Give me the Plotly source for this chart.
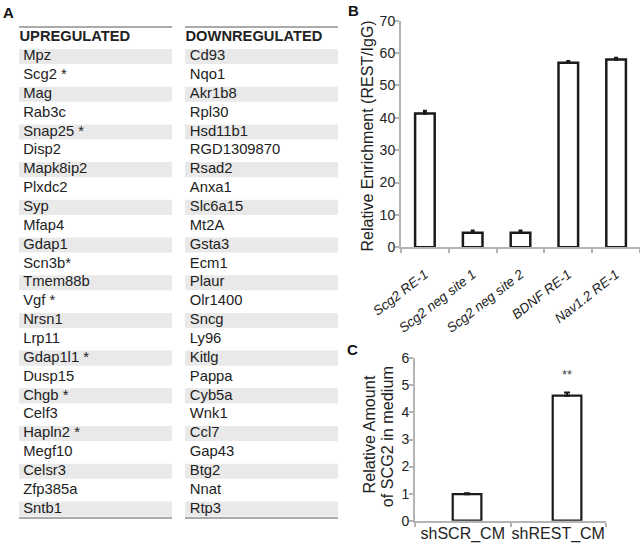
import plotly.graph_objects as go

# ---------------- data ----------------
up_genes = ["Mpz", "Scg2 *", "Mag", "Rab3c", "Snap25 *", "Disp2", "Mapk8ip2", "Plxdc2",
            "Syp", "Mfap4", "Gdap1", "Scn3b*", "Tmem88b", "Vgf *", "Nrsn1", "Lrp11",
            "Gdap1l1 *", "Dusp15", "Chgb *", "Celf3", "Hapln2 *", "Megf10", "Celsr3",
            "Zfp385a", "Sntb1"]
down_genes = ["Cd93", "Nqo1", "Akr1b8", "Rpl30", "Hsd11b1", "RGD1309870", "Rsad2", "Anxa1",
              "Slc6a15", "Mt2A", "Gsta3", "Ecm1", "Plaur", "Olr1400", "Sncg", "Ly96",
              "Kitlg", "Pappa", "Cyb5a", "Wnk1", "Ccl7", "Gap43", "Btg2", "Nnat", "Rtp3"]
headers = ["UPREGULATED", "DOWNREGULATED"]

chip_sites = ["Scg2 RE-1", "Scg2 neg site 1", "Scg2 neg site 2", "BDNF RE-1", "Nav1.2 RE-1"]
chip_values = [41.3, 4.5, 4.5, 57.0, 58.0]
chip_errors = [0.8, 0.6, 0.6, 0.5, 0.5]

cm_groups = ["shSCR_CM", "shREST_CM"]
cm_values = [0.98, 4.62]
cm_errors = [0.03, 0.12]
cm_marks = ["", "**"]

FONT = "Liberation Sans, Arial, sans-serif"
TXT = "#222222"
AX = "#b4b4b4"

fig = go.Figure()

# ---------------- panel A (table) ----------------
n = len(up_genes)
band_rows = [i for i in range(n) if i % 2 == 0]
col_left = [19, 185]     # band start (x3 units = px)
col_w = 153
fig.add_trace(go.Bar(
    orientation="h",
    y=band_rows + band_rows,
    x=[col_w] * (2 * len(band_rows)),
    base=[col_left[0]] * len(band_rows) + [col_left[1]] * len(band_rows),
    width=0.8,
    marker=dict(color="#e9e9e9", line=dict(width=0)),
    xaxis="x3", yaxis="y3", hoverinfo="skip", showlegend=False,
))
rows = list(range(n))
fig.add_trace(go.Scatter(
    x=[23.2] * n, y=rows, text=up_genes, mode="text", textposition="middle right",
    textfont=dict(family=FONT, size=14.8, color=TXT),
    xaxis="x3", yaxis="y3", hoverinfo="skip", showlegend=False,
))
fig.add_trace(go.Scatter(
    x=[189.8] * n, y=rows, text=down_genes, mode="text", textposition="middle right",
    textfont=dict(family=FONT, size=14.8, color=TXT),
    xaxis="x3", yaxis="y3", hoverinfo="skip", showlegend=False,
))
fig.add_trace(go.Scatter(
    x=[19.5, 185.5], y=[-1, -1], text=[f"<b>{h}</b>" for h in headers], mode="text",
    textposition="middle right",
    textfont=dict(family=FONT, size=14.7, color=TXT),
    xaxis="x3", yaxis="y3", hoverinfo="skip", showlegend=False,
))
for x0 in col_left:
    for yy in (-1.565, n - 0.52):
        fig.add_shape(type="line", xref="x3", yref="y3", x0=x0, x1=x0 + col_w, y0=yy, y1=yy,
                      line=dict(color="#8f8f8f", width=1.5))

# ---------------- panel B ----------------
fig.add_trace(go.Bar(
    x=chip_sites, y=chip_values, width=0.41,
    marker=dict(color="white", line=dict(color="#1a1a1a", width=2.5)),
    error_y=dict(type="data", symmetric=False, array=chip_errors,
                 arrayminus=[0] * len(chip_errors), color="#1a1a1a", thickness=2.5, width=2),
    xaxis="x", yaxis="y", showlegend=False,
))

# ---------------- panel C ----------------
fig.add_trace(go.Bar(
    x=cm_groups, y=cm_values, width=0.3, offset=[-0.105, -0.058],
    marker=dict(color="white", line=dict(color="#1a1a1a", width=2.2)),
    error_y=dict(type="data", symmetric=False, array=cm_errors,
                 arrayminus=[0] * len(cm_errors), color="#1a1a1a", thickness=2, width=3),
    xaxis="x2", yaxis="y2", showlegend=False,
))
for g, v, e, m in zip(cm_groups, cm_values, cm_errors, cm_marks):
    if m:
        fig.add_annotation(x=g, y=v + e, xref="x2", yref="y2", text=m, showarrow=False,
                           xanchor="center", yanchor="bottom", yshift=8, xshift=9,
                           font=dict(family=FONT, size=13, color="#444"))

axis_common = dict(showline=True, linecolor=AX, linewidth=2, ticks="outside",
                   tickcolor=AX, ticklen=4, tickwidth=1.5, showgrid=False, zeroline=False,
                   automargin=False)

fig.update_layout(
    width=640, height=544, margin=dict(l=0, r=0, t=0, b=0, pad=0, autoexpand=False),
    paper_bgcolor="white", plot_bgcolor="white", barmode="overlay",
    font=dict(family=FONT, color=TXT),
    xaxis=dict(domain=[401 / 640, 1.0], anchor="y", type="category", tickson="boundaries",
               tickangle=-38, ticklabelstandoff=12,
               tickfont=dict(family=FONT, size=13.5, color=TXT, style="italic"),
               **axis_common),
    yaxis=dict(domain=[1 - 247.3 / 544, 1 - 20.7 / 544], anchor="x", range=[0, 70],
               dtick=10, ticklabelstandoff=-3,
               tickfont=dict(family=FONT, size=14, color=TXT), **axis_common),
    xaxis2=dict(domain=[415 / 640, 606 / 640], anchor="y2", type="category",
                tickson="boundaries", tickangle=0, ticklabelstandoff=-3,
                tickfont=dict(family=FONT, size=16, color=TXT), **axis_common),
    yaxis2=dict(domain=[1 - 520.7 / 544, 1 - 358.3 / 544], anchor="x2", range=[0, 6],
                dtick=1, ticklabelstandoff=-3,
                tickfont=dict(family=FONT, size=14, color=TXT), **axis_common),
    xaxis3=dict(domain=[0, 340 / 640], anchor="y3", range=[0, 340], visible=False,
                fixedrange=True, automargin=False),
    yaxis3=dict(domain=[0, 1], anchor="x3", range=[25.86, -3.0], visible=False,
                fixedrange=True, automargin=False),
)

def paper_text(txt, px, py, size, angle=0, color=TXT):
    fig.add_annotation(x=px / 640, y=1 - py / 544, xref="paper", yref="paper",
                       xanchor="center", yanchor="middle", text=txt, textangle=angle,
                       showarrow=False, font=dict(family=FONT, size=size, color=color))

# axis titles
paper_text("Relative Enrichment (REST/IgG)", 366.5, 136, 16, -90)
paper_text("Relative Amount", 368.5, 435, 16.2, -90)
paper_text("of SCG2 in medium", 386.8, 436.5, 16.2, -90)

# panel letters
paper_text("<b>A</b>", 8, 12, 15, 0, "#111")
paper_text("<b>B</b>", 353, 10, 15, 0, "#111")
paper_text("<b>C</b>", 352.5, 349, 15, 0, "#111")

fig.write_html("out.html", post_script="document.body.style.margin='0px';",
               config={"displayModeBar": False})
